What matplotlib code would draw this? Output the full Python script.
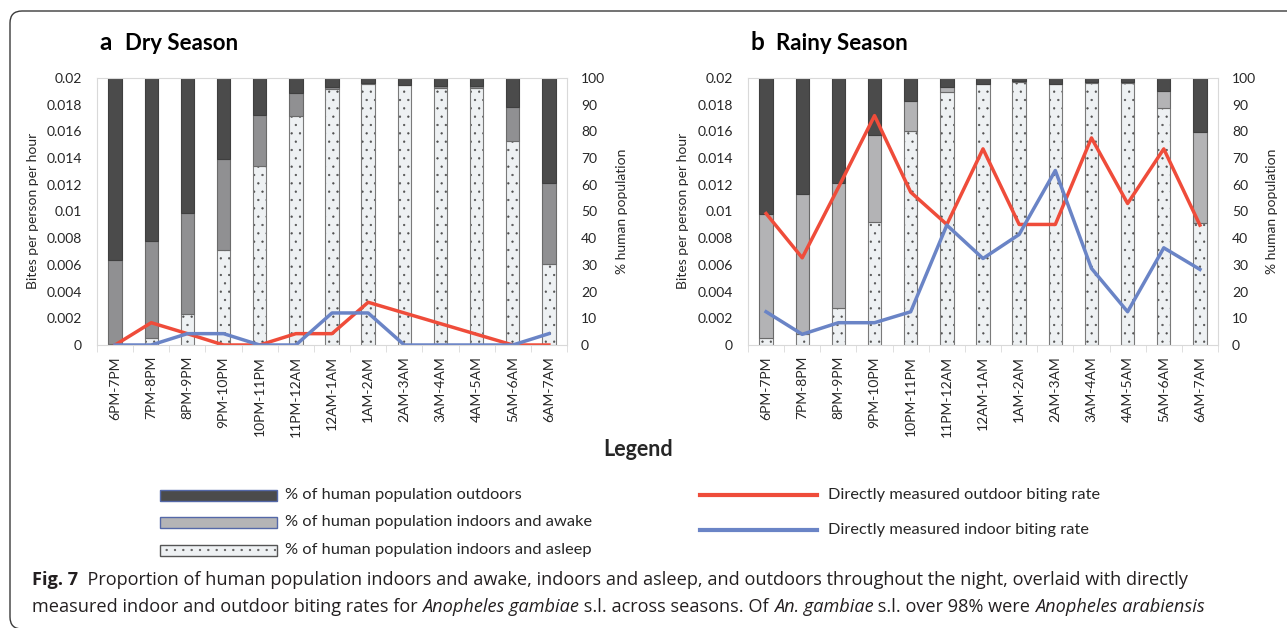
import numpy as np
import matplotlib.pyplot as plt
from matplotlib.patches import FancyBboxPatch, Rectangle
from matplotlib.lines import Line2D
from matplotlib.transforms import IdentityTransform

plt.rcParams['font.family'] = ['Lato', 'DejaVu Sans']
plt.rcParams['hatch.linewidth'] = 0.4

hours = ['6PM-7PM', '7PM-8PM', '8PM-9PM', '9PM-10PM', '10PM-11PM', '11PM-12AM',
         '12AM-1AM', '1AM-2AM', '2AM-3AM', '3AM-4AM', '4AM-5AM', '5AM-6AM', '6AM-7AM']
bite_ticks = ['0', '0.002', '0.004', '0.006', '0.008', '0.01',
              '0.012', '0.014', '0.016', '0.018', '0.02']
pct_ticks = ['0', '10', '20', '30', '40', '50', '60', '70', '80', '90', '100']

# % of people indoors asleep / indoors awake (rest is outdoors)
dry_asleep = [0.5, 2.7, 11.7, 35.4, 67.1, 85.7, 95.9, 97.8, 97.3, 96.1, 96.1, 76.3, 30.3]
dry_awake = [31.5, 36.1, 37.6, 34.2, 19.1, 8.6, 0.9, 0.4, 0.2, 1.0, 1.0, 12.9, 30.2]
rainy_asleep = [2.7, 4.0, 14.0, 46.0, 80.3, 94.8, 97.8, 98.6, 97.8, 98.3, 98.3, 88.8, 45.6]
rainy_awake = [46.2, 52.4, 46.8, 32.6, 11.2, 2.0, 0.0, 0.2, 0.0, 0.2, 0.2, 6.3, 34.1]

# biting rates (bites per person per hour)
dry_outdoor = [0, 0.00167, 0.00085, 0, 0, 0.00085, 0.00085, 0.0032, 0.0024, 0.0016, 0.0008, 0, 0]
dry_indoor = [0, 0, 0.00085, 0.00085, 0, 0, 0.0024, 0.0024, 0, 0, 0, 0, 0.00085]
rainy_outdoor = [0.00985, 0.00653, 0.0118, 0.01718, 0.01145, 0.00903, 0.01469,
                 0.00903, 0.00903, 0.01551, 0.0106, 0.01469, 0.00898]
rainy_indoor = [0.00249, 0.0008, 0.00167, 0.00167, 0.00249, 0.00898, 0.00648,
                0.00828, 0.01307, 0.00574, 0.00249, 0.00728, 0.00566]

W, H = 1287, 628
RED = '#ef4c3a'
BLUE = '#6a84c6'
DARK = '#4b4b4b'
LIGHT = '#eef1f3'
TXT = '#262626'

fig = plt.figure(figsize=(W / 100, H / 100), dpi=100)


def fx(x):
    return x / W


def fy(y):
    return 1 - y / H


def panel(left, asleep, awake, outdoor, indoor, awake_col, letter, title, lab_l, lab_r):
    ax = fig.add_axes([fx(left), fy(345), 470 / W, 267 / H])
    ax2 = ax.twinx()
    x = np.arange(len(hours))
    asleep = np.array(asleep)
    awake = np.array(awake)
    out = 100 - asleep - awake
    bw = 0.37
    ax2.bar(x, asleep, bw, color=LIGHT, hatch='..', edgecolor='#505050', lw=0)
    ax2.bar(x, asleep, bw, fill=False, edgecolor='#7a7a7a', lw=0.8)
    ax2.bar(x, awake, bw, bottom=asleep, color=awake_col, edgecolor='#6a6a6a', lw=0.8)
    ax2.bar(x, out, bw, bottom=asleep + awake, color=DARK, edgecolor='#3f3f3f', lw=0.8)

    ax.plot(x, outdoor, color=RED, lw=2.5)
    ax.plot(x, indoor, color=BLUE, lw=2.5)
    ax.set_zorder(ax2.get_zorder() + 1)
    ax.patch.set_visible(False)

    ax.set_xlim(-0.5, len(hours) - 0.5)
    ax.set_ylim(0, 0.02)
    ax2.set_ylim(0, 100)
    ax.set_yticks(np.linspace(0, 0.02, 11), bite_ticks)
    ax2.set_yticks(np.linspace(0, 100, 11), pct_ticks)
    ax.set_xticks(x, hours, rotation=90)
    ax.set_xticks(np.arange(len(hours) + 1) - 0.5, minor=True)
    ax.tick_params(axis='x', which='major', length=0, pad=8, labelsize=10, colors=TXT)
    ax.tick_params(axis='x', which='minor', length=5, color='#d9d9d9')
    ax.tick_params(axis='y', length=0, pad=11, labelsize=10, colors=TXT)
    ax2.tick_params(axis='y', length=0, pad=10, labelsize=10, colors=TXT)
    for s in ax.spines.values():
        s.set_color('#d9d9d9')
    for s in ax2.spines.values():
        s.set_visible(False)

    fig.text(fx(left + 2), fy(50), letter, fontsize=17.5, fontweight='bold', color='black', va='baseline')
    fig.text(fx(left + 28), fy(50), title, fontsize=16, fontweight='bold', color='black', va='baseline')
    fig.text(fx(lab_l), fy(211), 'Bites per person per hour', rotation=90, ha='center', va='center',
             fontsize=10, color=TXT)
    fig.text(fx(lab_r), fy(211), '% human population', rotation=90, ha='center', va='center',
             fontsize=10, color=TXT)


panel(97, dry_asleep, dry_awake, dry_outdoor, dry_indoor, '#909092', 'a', 'Dry Season', 33, 622)
panel(748, rainy_asleep, rainy_awake, rainy_outdoor, rainy_indoor, '#b3b3b5', 'b', 'Rainy Season', 683, 1272)

# legend
fig.text(fx(638), fy(449), 'Legend', fontsize=15.5, fontweight='bold', ha='center', va='center', color=TXT)
swatches = [(DARK, None, '#5468a8', '% of human population outdoors', 495),
            ('#b4b4b6', None, '#5468a8', '% of human population indoors and awake', 522),
            (LIGHT, '..', '#555555', '% of human population indoors and asleep', 550)]
for fc, hatch, ec, lab, yc in swatches:
    fig.add_artist(Rectangle((fx(160), fy(yc + 5.5)), 117 / W, 11 / H, transform=fig.transFigure,
                             facecolor=fc, hatch=hatch, edgecolor=ec, lw=1))
    fig.text(fx(285), fy(yc), lab, fontsize=11.8, va='center', color=TXT)
for col, lab, yc in [(RED, 'Directly measured outdoor biting rate', 495),
                     (BLUE, 'Directly measured indoor biting rate', 530)]:
    fig.add_artist(Line2D([fx(700), fx(817)], [fy(yc), fy(yc)], color=col, lw=3,
                          transform=fig.transFigure))
    fig.text(fx(828), fy(yc), lab, fontsize=11.8, va='center', color=TXT)

# caption
renderer = fig.canvas.get_renderer()


def rich_line(x, y, runs, size=13.1):
    for s, weight, style in runs:
        kw = dict(fontsize=size, fontweight=weight, fontstyle=style, color='#231f20',
                  family=['Open Sans', 'DejaVu Sans'])
        fig.text(fx(x), fy(y), s, va='baseline', ha='left', **kw)
        a = fig.text(0, 0, s + 'x', **kw)
        b = fig.text(0, 0, 'x', **kw)
        x += a.get_window_extent(renderer).width - b.get_window_extent(renderer).width
        a.remove()
        b.remove()


rich_line(32, 585, [('Fig. 7', 'bold', 'normal'),
                    ('  Proportion of human population indoors and awake, indoors and asleep, and outdoors '
                     'throughout the night, overlaid with directly', 'normal', 'normal')])
rich_line(32, 612, [('measured indoor and outdoor biting rates for ', 'normal', 'normal'),
                    ('Anopheles gambiae', 'normal', 'italic'),
                    (' s.l. across seasons. Of ', 'normal', 'normal'),
                    ('An. gambiae', 'normal', 'italic'),
                    (' s.l. over 98% were ', 'normal', 'normal'),
                    ('Anopheles arabiensis', 'normal', 'italic')])

fig.add_artist(FancyBboxPatch((10, -1), 1300, 618, boxstyle='round,pad=0,rounding_size=12',
                              transform=IdentityTransform(), fill=False, edgecolor='#3a3a3a', lw=1))

fig.savefig('out.png', dpi=100)
